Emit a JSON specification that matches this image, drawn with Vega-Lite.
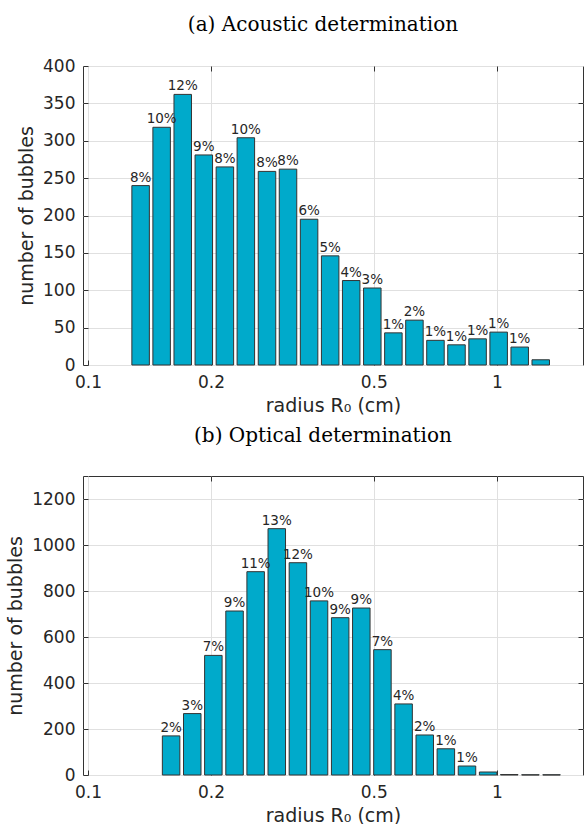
{
  "$schema": "https://vega.github.io/schema/vega-lite/v6.json",
  "padding": {"left": 6, "top": 14, "right": 0, "bottom": 0},
  "background": "white",
  "spacing": 9,
  "config": {
    "view": {"stroke": "#333333", "strokeWidth": 1},
    "axis": {
      "labelFont": "DejaVu Sans",
      "titleFont": "DejaVu Sans",
      "labelFontSize": 17,
      "titleFontSize": 19,
      "labelColor": "#262626",
      "titleColor": "#262626",
      "titleFontWeight": "normal",
      "gridColor": "#e0e0e0",
      "gridWidth": 1,
      "domain": false,
      "tickColor": "#333333",
      "tickSize": -5,
      "labelPadding": 13
    },
    "title": {
      "font": "DejaVu Serif",
      "fontSize": 20,
      "fontWeight": "normal",
      "color": "#000000",
      "anchor": "middle",
      "frame": "group",
      "dx": -10
    }
  },
  "datasets": {
    "acoustic": [
      {"r": 0.1345, "n": 240, "label": "8%"},
      {"r": 0.1514, "n": 318, "label": "10%"},
      {"r": 0.1705, "n": 362, "label": "12%"},
      {"r": 0.1920, "n": 281, "label": "9%"},
      {"r": 0.2162, "n": 265, "label": "8%"},
      {"r": 0.2433, "n": 304, "label": "10%"},
      {"r": 0.2741, "n": 259, "label": "8%"},
      {"r": 0.3085, "n": 262, "label": "8%"},
      {"r": 0.3474, "n": 195, "label": "6%"},
      {"r": 0.3912, "n": 146, "label": "5%"},
      {"r": 0.4404, "n": 113, "label": "4%"},
      {"r": 0.4960, "n": 103, "label": "3%"},
      {"r": 0.5585, "n": 43, "label": "1%"},
      {"r": 0.6288, "n": 60, "label": "2%"},
      {"r": 0.7079, "n": 33, "label": "1%"},
      {"r": 0.7969, "n": 27, "label": "1%"},
      {"r": 0.8975, "n": 35, "label": "1%"},
      {"r": 1.0106, "n": 44, "label": "1%"},
      {"r": 1.1378, "n": 24, "label": "1%"},
      {"r": 1.2809, "n": 7, "label": ""}
    ],
    "optical": [
      {"r": 0.1597, "n": 170, "label": "2%"},
      {"r": 0.1799, "n": 267, "label": "3%"},
      {"r": 0.2026, "n": 520, "label": "7%"},
      {"r": 0.2283, "n": 713, "label": "9%"},
      {"r": 0.2571, "n": 884, "label": "11%"},
      {"r": 0.2896, "n": 1071, "label": "13%"},
      {"r": 0.3262, "n": 923, "label": "12%"},
      {"r": 0.3674, "n": 757, "label": "10%"},
      {"r": 0.4139, "n": 684, "label": "9%"},
      {"r": 0.4662, "n": 726, "label": "9%"},
      {"r": 0.5251, "n": 545, "label": "7%"},
      {"r": 0.5916, "n": 309, "label": "4%"},
      {"r": 0.6664, "n": 174, "label": "2%"},
      {"r": 0.7506, "n": 114, "label": "1%"},
      {"r": 0.8455, "n": 39, "label": "1%"},
      {"r": 0.9524, "n": 13, "label": ""},
      {"r": 1.0727, "n": 2, "label": ""},
      {"r": 1.2085, "n": 1, "label": ""},
      {"r": 1.3612, "n": 1, "label": ""}
    ]
  },
  "vconcat": [
    {
      "title": {"text": "(a) Acoustic determination", "offset": 22},
      "width": 500,
      "height": 299,
      "data": {"name": "acoustic"},
      "resolve": {"axis": {"x": "independent", "y": "independent"}},
      "layer": [
        {
          "mark": {"type": "bar", "size": 17.5, "fill": "#00AACB", "stroke": "#333333", "strokeWidth": 1},
          "encoding": {
            "x": {"field": "r", "type": "quantitative",
              "scale": {"type": "log", "domain": [0.1, 1.58], "nice": false},
              "axis": {"values": [0.1, 0.2, 0.5, 1], "format": "~g", "title": "radius R₀ (cm)", "titlePadding": 6, "labelPadding": 14, "orient": "bottom"}},
            "y": {"field": "n", "type": "quantitative",
              "scale": {"domain": [0, 400], "nice": false},
              "axis": {"values": [0, 50, 100, 150, 200, 250, 300, 350, 400], "format": "d", "title": "number of bubbles", "titlePadding": 6, "orient": "left"}}
          }
        },
        {
          "mark": {"type": "text", "font": "DejaVu Sans", "fontSize": 13.5, "color": "#262626", "baseline": "alphabetic", "dy": -4},
          "encoding": {
            "x": {"field": "r", "type": "quantitative",
              "axis": {"orient": "top", "values": [0.2, 0.5, 1], "labels": false, "title": null, "grid": false}},
            "y": {"field": "n", "type": "quantitative",
              "axis": {"orient": "right", "values": [50, 100, 150, 200, 250, 300, 350], "labels": false, "title": null, "grid": false}},
            "text": {"field": "label"}
          }
        }
      ]
    },
    {
      "title": {"text": "(b) Optical determination", "offset": 30},
      "width": 500,
      "height": 299,
      "data": {"name": "optical"},
      "resolve": {"axis": {"x": "independent", "y": "independent"}},
      "layer": [
        {
          "mark": {"type": "bar", "size": 17.5, "fill": "#00AACB", "stroke": "#333333", "strokeWidth": 1},
          "encoding": {
            "x": {"field": "r", "type": "quantitative",
              "scale": {"type": "log", "domain": [0.1, 1.58], "nice": false},
              "axis": {"values": [0.1, 0.2, 0.5, 1], "format": "~g", "title": "radius R₀ (cm)", "titlePadding": 6, "labelPadding": 14, "orient": "bottom"}},
            "y": {"field": "n", "type": "quantitative",
              "scale": {"domain": [0, 1300], "nice": false},
              "axis": {"values": [0, 200, 400, 600, 800, 1000, 1200], "format": "d", "title": "number of bubbles", "titlePadding": 6, "orient": "left"}}
          }
        },
        {
          "mark": {"type": "text", "font": "DejaVu Sans", "fontSize": 13.5, "color": "#262626", "baseline": "alphabetic", "dy": -4},
          "encoding": {
            "x": {"field": "r", "type": "quantitative",
              "axis": {"orient": "top", "values": [0.2, 0.5, 1], "labels": false, "title": null, "grid": false}},
            "y": {"field": "n", "type": "quantitative",
              "axis": {"orient": "right", "values": [200, 400, 600, 800, 1000, 1200], "labels": false, "title": null, "grid": false}},
            "text": {"field": "label"}
          }
        }
      ]
    }
  ]
}
